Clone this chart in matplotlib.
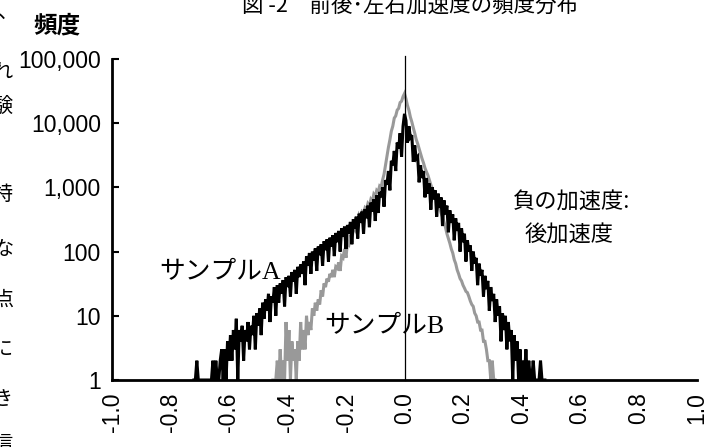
import numpy as np
import matplotlib
matplotlib.use('Agg')
import matplotlib.pyplot as plt

plt.rcParams['axes.unicode_minus'] = False

# bins of acceleration (G), 0.005 wide
bin_w = 0.005
a_start = -0.72
b_start = -0.45

# sample A (black), -0.72 .. 0.48
a_counts = [
    1, 1, 2, 1, 1, 1, 1, 1, 1, 1, 1, 1, 1, 2, 1, 2, 1, 1, 2, 3, 1, 3, 1, 4, 2,
    5, 2, 6, 3, 9, 1, 6, 4, 7, 2, 6, 4, 8, 3, 7, 5, 10, 3, 11, 7,
    13, 5, 16, 9, 18, 12, 22, 8, 20, 16, 28, 10, 30, 16, 32, 22, 36, 14, 40, 28,
    42, 20, 48, 34, 52, 22, 58, 40, 63, 45, 70, 30, 85, 60, 95, 45, 100, 72, 112, 50,
    120, 88, 130, 60, 145, 105, 155, 70, 165, 120, 180, 85, 195, 140, 210, 100, 230, 170, 245, 110,
    260, 190, 290, 130, 320, 230, 350, 160, 390, 280, 420, 190, 460, 330, 520, 240, 580, 420, 650, 300,
    750, 400, 850, 700, 1000, 500, 1300, 1100, 1800, 900, 2600, 2200, 3700, 1800, 5000, 4000, 7000, 3000, 9000, 14000,
    11000, 5000, 9000, 6000, 6500, 2500, 4500, 2800, 3000, 1200, 2200, 1400, 1800, 700, 1400, 800, 1150, 450, 1000, 650,
    900, 350, 800, 480, 700, 250, 630, 380, 520, 200, 440, 280, 380, 150, 330, 210, 280, 100, 230, 140,
    190, 70, 150, 100, 125, 50, 100, 65, 80, 30, 65, 42, 52, 20, 42, 26, 35, 12, 28, 17,
    22, 8, 18, 10, 14, 4, 11, 6, 10, 3, 8, 4, 6, 1, 5, 2, 4, 1, 3, 1,
    2, 1, 3, 1, 2, 1, 1, 2, 1, 1, 1, 1, 2, 1, 1, 1,
]

# sample B (grey), -0.45 .. 0.31
b_counts = [
    1, 1, 1, 2, 1, 3, 1, 2, 1, 8, 2, 6, 1, 4, 2, 3, 1, 4, 2, 8, 3,
    6, 3, 10, 5, 8, 6, 13, 10, 16, 12, 18, 15, 25, 20, 32, 28, 38, 34, 45, 40,
    52, 40, 58, 55, 68, 50, 85, 80, 110, 80, 140, 130, 180, 140, 240, 220, 310, 240, 370, 340,
    420, 400, 480, 450, 560, 520, 650, 600, 780, 720, 900, 850, 1050, 1000, 1300, 1600, 2200, 3000, 4200, 5500,
    7500, 9000, 12000, 13000, 16000, 17000, 21000, 22000, 26000, 29000, 24000, 19000, 16000, 12500, 10500, 8500, 7000, 5600, 4800, 4000,
    3300, 2800, 2400, 2000, 1750, 1550, 1300, 1100, 950, 850, 720, 620, 560, 480, 400, 350, 290, 240, 190, 160,
    135, 110, 95, 75, 65, 52, 45, 38, 35, 30, 27, 24, 23, 20, 17, 15, 14, 11, 10, 8,
    8, 6, 6, 4, 4, 3, 2, 2, 1, 2, 1, 1,
]

x_ticks = [-1.0, -0.8, -0.6, -0.4, -0.2, 0.0, 0.2, 0.4, 0.6, 0.8, 1.0]
x_labels = ['-1.0', '-0.8', '-0.6', '-0.4', '-0.2', '0.0', '0.2', '0.4', '0.6', '0.8', '1.0']
y_ticks = [1, 10, 100, 1000, 10000, 100000]
y_labels = ['1', '10', '100', '1,000', '10,000', '100,000']

a_x = a_start + bin_w * np.arange(len(a_counts))
b_x = b_start + bin_w * np.arange(len(b_counts))

jp = 'Noto Sans CJK JP'
num_font = 'Liberation Sans'

fig = plt.figure(figsize=(7.23, 4.47), dpi=100)
ax = fig.add_axes([112 / 723, 1 - 380 / 447, (697 - 112) / 723, (380 - 59) / 447])

ax.plot(b_x, b_counts, color='#999999', lw=2.2, solid_joinstyle='miter')
ax.plot(a_x, a_counts, color='black', lw=2.2, solid_joinstyle='miter')
ax.axvline(0, ymin=0, ymax=1.01, color='black', lw=0.9, clip_on=False, zorder=5)

ax.set_yscale('log')
ax.set_xlim(-1.0, 1.0)
ax.set_ylim(1, 100000)
ax.minorticks_off()

ax.spines['top'].set_visible(False)
ax.spines['right'].set_visible(False)
ax.spines['left'].set_linewidth(2)
ax.spines['bottom'].set_linewidth(2)

ax.set_yticks(y_ticks)
ax.set_yticklabels(y_labels, fontfamily=num_font, fontsize=16.5)
ax.tick_params(axis='y', direction='in', length=5, width=1.5, pad=8)
ax.set_xticks(x_ticks)
ax.set_xticklabels(x_labels, fontfamily=num_font, fontsize=16.5, rotation=90, va='top', ha='center')
ax.tick_params(axis='x', length=0, pad=9)

# series labels
ax.text(-0.84, 46, 'サンプルA', fontsize=18.5, va='center', ha='left',
        family=['Liberation Serif', jp])
ax.text(-0.274, 6.7, 'サンプルB', fontsize=18.5, va='center', ha='left',
        family=['Liberation Serif', jp])

fig.text(513 / 723, 1 - 202 / 447, '負の加速度:', fontsize=16, family=jp, va='center', ha='left')
fig.text(525 / 723, 1 - 235 / 447, '後加速度', fontsize=16, family=jp, va='center', ha='left')

# title and axis caption
fig.text(410 / 723, 1 - 17 / 447, '図 -2　前後･左右加速度の頻度分布', fontsize=15.5,
         family=[jp, 'DejaVu Sans'], va='bottom', ha='center')
fig.text(57 / 723, 1 - 25 / 447, '頻度', fontsize=17, family=jp, fontweight='bold',
         va='center', ha='center')

# clipped text from the neighbouring column
fig.text(-2 / 723, 1 - 12 / 447, '、', fontsize=14.5, family=jp, va='center', ha='left')
side_chars = ['れ', '験', '特', 'な', '点', 'に', 'き', '信']
side_y = [72, 106, 194, 250, 300, 350, 400, 445]
for ch, yy in zip(side_chars, side_y):
    fig.text(13 / 723, 1 - yy / 447, ch, fontsize=14.5, family=jp, va='center', ha='right')

fig.savefig('out.png', dpi=100)
